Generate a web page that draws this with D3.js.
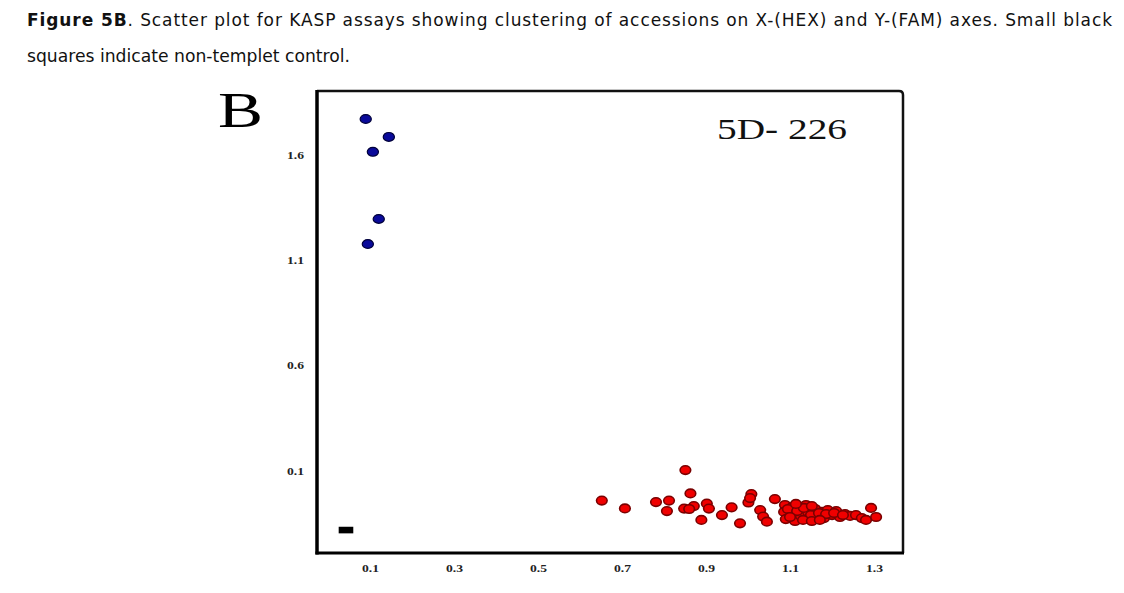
<!DOCTYPE html>
<html>
<head>
<meta charset="utf-8">
<script src="https://cdn.jsdelivr.net/npm/d3@7"></script>
<style>
  html, body { margin: 0; padding: 0; background: #fff; }
  svg { display: block; }
</style>
</head>
<body>
<svg id="chart" width="1124" height="593"></svg>
<script>
// ---- data ----
const xTicks = [0.1, 0.3, 0.5, 0.7, 0.9, 1.1, 1.3];
const yTicks = [0.1, 0.6, 1.1, 1.6];
const xDomain = [-0.026, 1.369];
const yDomain = [-0.292, 1.903];

// FAM cluster (blue)
const blueX = [0.090, 0.145, 0.107, 0.121, 0.095];
const blueY = [1.770, 1.685, 1.614, 1.295, 1.176];

// HEX cluster (red)
const redX = [0.851, 0.652, 0.707, 0.781, 0.812, 0.807, 0.863, 0.848, 0.871, 0.860,
              0.902, 0.907, 0.889, 0.938, 0.961, 0.981, 1.008, 1.001, 1.005, 1.029,
              1.036, 1.045, 1.064, 1.088, 1.086, 1.090, 1.105, 1.107, 1.112, 1.124,
              1.126, 1.138, 1.143, 1.145, 1.160, 1.164, 1.176, 1.181, 1.190, 1.200,
              1.210, 1.219, 1.231, 1.243, 1.257, 1.271, 1.281, 1.293, 1.305,
              1.095, 1.117, 1.133, 1.150, 1.169, 1.186, 1.205, 1.226, 1.100, 1.131,
              1.152, 1.171, 1.114, 1.152];
const redY = [0.102, -0.043, -0.080, -0.050, -0.043, -0.093, -0.009, -0.081, -0.069, -0.083,
              -0.057, -0.081, -0.135, -0.112, -0.075, -0.151, -0.012, -0.052, -0.031, -0.088,
              -0.119, -0.143, -0.036, -0.064, -0.097, -0.131, -0.074, -0.107, -0.140, -0.083,
              -0.116, -0.064, -0.097, -0.131, -0.083, -0.116, -0.097, -0.126, -0.088, -0.112,
              -0.093, -0.121, -0.107, -0.116, -0.112, -0.126, -0.135, -0.078, -0.121,
              -0.083, -0.093, -0.078, -0.112, -0.102, -0.107, -0.102, -0.112, -0.121, -0.135,
              -0.140, -0.135, -0.059, -0.069];

// non-template control (black square)
const ntcX = [0.043];
const ntcY = [-0.183];

const captionBold = "Figure 5B";
const captionLine1 = ". Scatter plot for KASP assays showing clustering of accessions on X-(HEX) and Y-(FAM) axes. Small black";
const captionLine2 = "squares indicate non-templet control.";
const panelLetter = "B";
const markerName = "5D- 226";

// ---- drawing ----
const svg = d3.select("#chart");
const x = d3.scaleLinear().domain(xDomain).range([317, 903]);
const y = d3.scaleLinear().domain(yDomain).range([553, 91]);

// caption
const cap1 = svg.append("text")
  .attr("x", 27).attr("y", 26)
  .attr("font-family", "DejaVu Sans, sans-serif")
  .attr("font-size", 17)
  .attr("fill", "#111")
  .attr("textLength", 1085)
  .attr("lengthAdjust", "spacing");
cap1.append("tspan").attr("font-weight", "bold").text(captionBold);
cap1.append("tspan").text(captionLine1);

svg.append("text")
  .attr("x", 27).attr("y", 62)
  .attr("font-family", "DejaVu Sans, sans-serif")
  .attr("font-size", 17)
  .attr("fill", "#111")
  .attr("textLength", 323)
  .attr("lengthAdjust", "spacingAndGlyphs")
  .text(captionLine2);

// panel letter
svg.append("text")
  .attr("x", 218).attr("y", 127)
  .attr("font-family", "Liberation Serif, serif")
  .attr("font-size", 51)
  .attr("fill", "#000")
  .attr("textLength", 45)
  .attr("lengthAdjust", "spacingAndGlyphs")
  .text(panelLetter);

// marker name
svg.append("text")
  .attr("x", 717).attr("y", 139)
  .attr("font-family", "Liberation Serif, serif")
  .attr("font-size", 29)
  .attr("fill", "#111")
  .attr("textLength", 130)
  .attr("lengthAdjust", "spacingAndGlyphs")
  .text(markerName);

// frame
const [x0, x1] = x.range();
const [y0, y1] = y.range();
svg.append("path")
  .attr("d", `M${x0},${y1} L${x1 - 4},${y1} Q${x1},${y1} ${x1},${y1 + 4} L${x1},${y0}`)
  .attr("fill", "none").attr("stroke", "#111").attr("stroke-width", 2.5);
svg.append("line").attr("x1", x0).attr("x2", x0).attr("y1", y1 - 1).attr("y2", y0 + 1.5)
  .attr("stroke", "#000").attr("stroke-width", 3.5);
svg.append("line").attr("x1", x0 - 1.5).attr("x2", x1 + 1).attr("y1", y0).attr("y2", y0)
  .attr("stroke", "#000").attr("stroke-width", 3);

// axes (labels only)
const tickFont = (g) => {
  g.select(".domain").remove();
  g.selectAll(".tick line").remove();
  g.selectAll(".tick text")
    .attr("font-family", "Liberation Serif, serif")
    .attr("font-weight", "bold")
    .attr("font-size", 11)
    .attr("fill", "#222")
    .attr("textLength", 17)
    .attr("lengthAdjust", "spacingAndGlyphs");
};
svg.append("g")
  .attr("transform", `translate(0,${y0})`)
  .call(d3.axisBottom(x).tickValues(xTicks).tickSize(0).tickPadding(11).tickFormat(d3.format(".1f")))
  .call(tickFont);
svg.append("g")
  .attr("transform", `translate(${x0},0)`)
  .call(d3.axisLeft(y).tickValues(yTicks).tickSize(0).tickPadding(13).tickFormat(d3.format(".1f")))
  .call(tickFont);

// points
const blue = blueX.map((v, i) => ({ x: v, y: blueY[i] }));
const red = redX.map((v, i) => ({ x: v, y: redY[i] }));
const ntc = ntcX.map((v, i) => ({ x: v, y: ntcY[i] }));

svg.append("g").selectAll("ellipse").data(red).join("ellipse")
  .attr("cx", d => x(d.x)).attr("cy", d => y(d.y))
  .attr("rx", 5.3).attr("ry", 4.3)
  .attr("fill", "#f00000").attr("stroke", "#7a0000").attr("stroke-width", 1.6);

svg.append("g").selectAll("ellipse").data(blue).join("ellipse")
  .attr("cx", d => x(d.x)).attr("cy", d => y(d.y))
  .attr("rx", 5.6).attr("ry", 4.4)
  .attr("fill", "#0a0a9a").attr("stroke", "#00003a").attr("stroke-width", 1.2);

svg.append("g").selectAll("rect").data(ntc).join("rect")
  .attr("x", d => x(d.x) - 7.3).attr("y", d => y(d.y) - 3.3)
  .attr("width", 14.6).attr("height", 6.6)
  .attr("fill", "#000");
</script>
</body>
</html>
